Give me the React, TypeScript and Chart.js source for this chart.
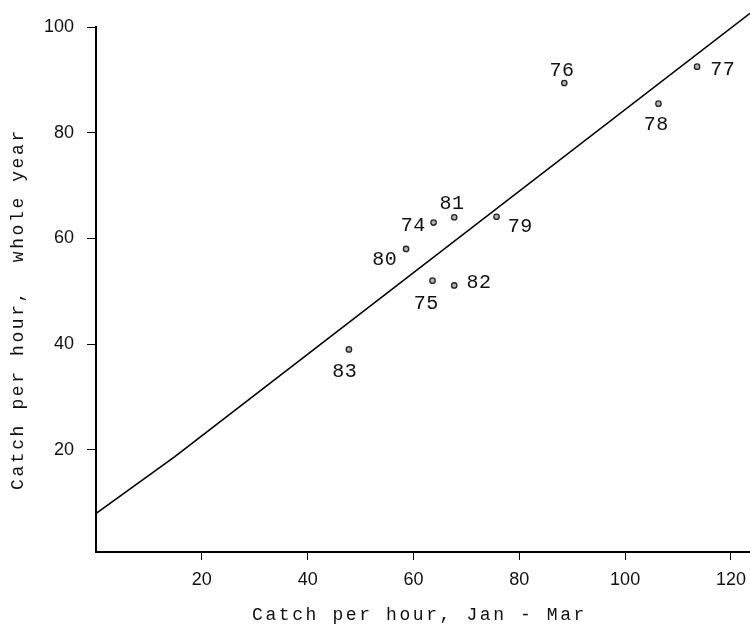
import React, { useEffect, useRef } from 'react';
import { Chart, registerables } from 'chart.js';

Chart.register(...registerables);

// Season labels and catch rates (catch per hour)
const seasons = ['74', '75', '76', '77', '78', '79', '80', '81', '82', '83'];
const catchJanMar = [63.8, 63.6, 88.5, 113.6, 106.3, 75.7, 58.6, 67.7, 67.7, 47.8];
const catchWholeYear = [63.0, 52.0, 89.4, 92.5, 85.5, 64.1, 58.0, 64.0, 51.1, 39.0];

// Fitted line as drawn (three vertices)
const fitX = [0.1, 14.9, 123.6];
const fitY = [8.0, 18.7, 102.6];

const xTicks = [20, 40, 60, 80, 100, 120];
const yTicks = [20, 40, 60, 80, 100];

const xTitle = 'Catch per hour, Jan - Mar';
const yTitle = 'Catch per hour,  whole year';

// Label placement around each point, in pixels (centre of label relative to dot)
const labelOffsets: Record<string, [number, number]> = {
  '74': [-22, 2],
  '75': [-8, 22],
  '76': [-4, -14],
  '77': [24, 2],
  '78': [-4, 20],
  '79': [22, 8],
  '80': [-23, 9],
  '81': [-4, -15],
  '82': [23, -4],
  '83': [-6, 21],
};

const MONO = '"Liberation Mono", "DejaVu Sans Mono", monospace';
const SANS = '"Liberation Sans", Arial, sans-serif';

function drawSpaced(
  ctx: CanvasRenderingContext2D,
  text: string,
  x: number,
  y: number,
  advance: number
) {
  for (let i = 0; i < text.length; i++) {
    ctx.fillText(text[i], x + i * advance, y);
  }
}

const labelsPlugin = {
  id: 'pointLabelsAndTitles',
  afterDatasetsDraw(chart: any) {
    const ctx: CanvasRenderingContext2D = chart.ctx;
    const xs = chart.scales.x;
    const ys = chart.scales.y;
    const area = chart.chartArea;
    ctx.save();
    ctx.fillStyle = '#111';
    ctx.textBaseline = 'alphabetic';
    ctx.textAlign = 'left';

    // season labels next to each point
    ctx.font = `20px ${MONO}`;
    const adv = 12.5;
    seasons.forEach((s, i) => {
      const px = xs.getPixelForValue(catchJanMar[i]);
      const py = ys.getPixelForValue(catchWholeYear[i]);
      const [dx, dy] = labelOffsets[s];
      const w = adv * (s.length - 1) + 10;
      drawSpaced(ctx, s, px + dx - w / 2 + 0.5, py + dy + 6.8, adv);
    });

    // axis titles
    ctx.font = `18px ${MONO}`;
    const tAdv = 13.4;
    drawSpaced(ctx, xTitle, area.left + 156, area.bottom + 68, tAdv);

    ctx.translate(area.left - 73, area.bottom - 62);
    ctx.rotate(-Math.PI / 2);
    drawSpaced(ctx, yTitle, 0, 0, tAdv);
    ctx.restore();
  },
};

export default function App() {
  const canvasRef = useRef<HTMLCanvasElement | null>(null);

  useEffect(() => {
    const canvas = canvasRef.current;
    if (!canvas) return;

    const points = seasons.map((_, i) => ({ x: catchJanMar[i], y: catchWholeYear[i] }));
    const fit = fitX.map((x, i) => ({ x, y: fitY[i] }));

    const chart = new Chart(canvas, {
      type: 'scatter',
      data: {
        datasets: [
          {
            label: 'fit',
            data: fit,
            showLine: true,
            borderColor: '#000',
            borderWidth: 1.6,
            pointRadius: 0,
            fill: false,
            clip: false as any,
            tension: 0,
          },
          {
            label: 'seasons',
            data: points,
            showLine: false,
            pointRadius: 2.7,
            pointBorderWidth: 1.3,
            pointBorderColor: '#222',
            pointBackgroundColor: '#b0b0b0',
          },
        ],
      },
      options: {
        animation: false,
        responsive: false,
        maintainAspectRatio: false,
        devicePixelRatio: 1,
        layout: { autoPadding: false, padding: { top: 27, right: 0, bottom: 0, left: 0 } },
        plugins: {
          legend: { display: false },
          tooltip: { enabled: false },
        },
        scales: {
          x: {
            type: 'linear',
            min: 0,
            max: 123.6,
            afterBuildTicks: (s: any) => {
              s.ticks = xTicks.map((v) => ({ value: v }));
            },
            afterFit: (s: any) => {
              s.height = 75;
              s.paddingLeft = 0;
              s.paddingRight = 0;
            },
            ticks: {
              color: '#111',
              font: { family: SANS, size: 18 },
              padding: 9,
              maxRotation: 0,
              autoSkip: false,
            },
            grid: {
              drawOnChartArea: false,
              drawTicks: true,
              tickLength: 8,
              color: '#000',
              lineWidth: 1,
            },
            border: { display: true, color: '#000', width: 2 },
          },
          y: {
            type: 'linear',
            min: 0.66,
            max: 100,
            afterBuildTicks: (s: any) => {
              s.ticks = yTicks.map((v) => ({ value: v }));
            },
            afterFit: (s: any) => {
              s.width = 96;
              s.paddingTop = 0;
              s.paddingBottom = 0;
            },
            ticks: {
              color: '#111',
              font: { family: SANS, size: 18 },
              padding: 13,
              autoSkip: false,
            },
            grid: {
              drawOnChartArea: false,
              drawTicks: true,
              tickLength: 9,
              color: '#000',
              lineWidth: 1,
            },
            border: { display: true, color: '#000', width: 2 },
          },
        },
      },
      plugins: [labelsPlugin],
    });

    return () => chart.destroy();
  }, []);

  return (
    <div style={{ position: 'fixed', left: 0, top: 0, width: 750, height: 627, background: '#fff' }}>
      <canvas ref={canvasRef} width={750} height={627} style={{ display: 'block' }} />
    </div>
  );
}
